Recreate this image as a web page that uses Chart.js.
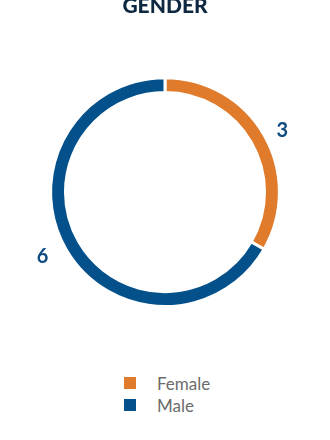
<!DOCTYPE html>
<html>
<head>
<meta charset="utf-8">
<script src="https://cdn.jsdelivr.net/npm/chart.js@4.4.0/dist/chart.umd.min.js"></script>
<style>
    body { margin: 0; background: #fff; font-family: Lato, sans-serif; }
    #wrap { position: relative; width: 330px; height: 340px; }
    #legend { position: absolute; left: 124px; top: 372px; }
    .item { display: flex; align-items: center; height: 22px; }
    .box { width: 12px; height: 12px; margin-right: 21px; }
    .txt { font-size: 17px; color: #6b6b6b; }
</style>
</head>
<body>
<div id="wrap"><canvas id="myChart"></canvas></div>
<div id="legend"></div>
<script>
// datos del grafico
const labels = ['Female', 'Male'];
const counts = [3, 6];
const colors = ['#E07B2C', '#04508A'];

// etiquetas con el valor fuera del anillo
const valueLabels = {
    id: 'valueLabels',
    afterDatasetsDraw(chart) {
        const ctx = chart.ctx;
        const meta = chart.getDatasetMeta(0);
        ctx.save();
        ctx.font = 'bold 20px Lato';
        ctx.fillStyle = '#0F4C81';
        ctx.textAlign = 'center';
        ctx.textBaseline = 'middle';
        meta.data.forEach((arc, i) => {
            const mid = (arc.startAngle + arc.endAngle) / 2 + 0.04;
            const r = arc.outerRadius + (i === 0 ? 18 : 24);
            ctx.fillText(String(counts[i]), arc.x + Math.cos(mid) * r, arc.y + Math.sin(mid) * r);
        });
        ctx.restore();
    }
};

const ctx = document.querySelector('#myChart');
const myChart = new Chart(ctx, {
    type: 'doughnut',
    data: {
        labels: labels,
        datasets: [{
            data: counts,
            backgroundColor: colors,
            borderColor: '#ffffff',
            borderWidth: 3,
        }]
    },
    options: {
        responsive: true,
        maintainAspectRatio: false,
        animation: false,
        cutout: '87%',
        layout: { padding: { top: 0, bottom: 32, left: 49, right: 49 } },
        plugins: {
            legend: { display: false },
            tooltip: { enabled: false },
            title: {
                display: true,
                text: 'GENDER',
                color: '#0E2841',
                font: { family: 'Lato', size: 21, weight: '900', lineHeight: 1.2 },
                padding: { top: -6, bottom: 57 }
            }
        }
    },
    plugins: [valueLabels]
});

// leyenda en html, vertical
const legend = document.getElementById('legend');
labels.forEach((name, i) => {
    legend.innerHTML += `<div class="item"><span class="box" style="background:${colors[i]}"></span><span class="txt">${name}</span></div>`;
});
</script>
</body>
</html>
